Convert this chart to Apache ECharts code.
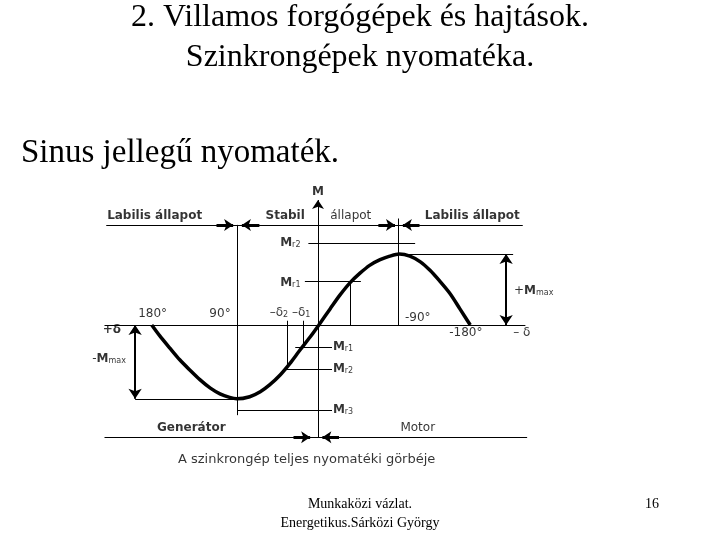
<!DOCTYPE html>
<html>
<head>
<meta charset="utf-8">
<script src="https://cdn.jsdelivr.net/npm/echarts@6/dist/echarts.min.js"></script>
<style>
html, body { margin: 0; padding: 0; background: #fff; }
#main { width: 720px; height: 540px; }
</style>
</head>
<body>
<div id="main"></div>
<script>
// torque curve: load angle delta (deg) -> M / Mmax
var delta = [190, 181, 169, 158, 146, 135, 123, 112, 101, 93, 78, 66, 55, 43, 32, 21, 9, -1,
             -14, -25, -37, -48, -59, -71, -82, -93, -105, -117, -128, -139, -151, -162, -174];
var torque = [0, -0.15, -0.33, -0.49, -0.64, -0.77, -0.89, -0.97, -1.02, -1.04, -1.01, -0.94, -0.84, -0.70, -0.54, -0.36, -0.17, 0,
              0.23, 0.42, 0.60, 0.73, 0.84, 0.92, 0.97, 1.0, 0.97, 0.89, 0.77, 0.62, 0.44, 0.23, 0];

// levels on the M axis
var mPlus = 1.0, mMinus = -1.04;
var motorLoads = [1.15, 0.62];          // M_r2, M_r1 (upper)
var motorNames = ['r2', 'r1'];
var genLoads = [-0.31, -0.62, -1.2];    // M_r1, M_r2, M_r3 (lower)
var genNames = ['r1', 'r2', 'r3'];
var stateLine = 1.41, modeLine = -1.58;

// angle marks
var tickLabels = ['180°', '90°', '-90°', '-180°'];
var tickAngles = [189, 112, -114, -169];
var tickLevels = [0.15, 0.15, 0.1, -0.11];
var deltaLoads = [35, 17];              // -delta2, -delta1

var chart = echarts.init(document.getElementById('main'));

var sans = 'DejaVu Sans';
function seg(a, b) { return { coords: [a, b] }; }

var plain = [
  seg([244, 0], [-237, 0]),
  seg([242, stateLine], [-234, stateLine]),
  seg([244, modeLine], [-239, modeLine]),
  seg([92, stateLine], [92, -1.27]),
  seg([-92, 1.5], [-92, 0]),
  seg([11, motorLoads[0]], [-111, motorLoads[0]]),
  seg([15, motorLoads[1]], [-49, motorLoads[1]]),
  seg([-37, motorLoads[1]], [-37, 0]),
  seg([-92, mPlus], [-223, mPlus]),
  seg([209, mMinus], [92, mMinus]),
  seg([26, genLoads[0]], [-16, genLoads[0]]),
  seg([40, genLoads[1]], [-16, genLoads[1]]),
  seg([92, genLoads[2]], [-16, genLoads[2]]),
  seg([deltaLoads[0], 0.06], [deltaLoads[0], -0.59]),
  seg([deltaLoads[1], 0.06], [deltaLoads[1], -0.32])
];

var doubleArrows = [
  seg([-215, mPlus], [-215, 0]),
  seg([209, 0], [209, mMinus])
];

var shortArrows = [
  seg([116, stateLine], [97, stateLine]),
  seg([67, stateLine], [87, stateLine]),
  seg([-69, stateLine], [-88, stateLine]),
  seg([-116, stateLine], [-97, stateLine]),
  seg([28, modeLine], [9, modeLine]),
  seg([-24, modeLine], [-5, modeLine])
];

function txt(x, y, text, align, extra) {
  var lab = { show: true, position: 'inside', formatter: text, align: align || 'center', verticalAlign: 'middle' };
  for (var k in extra) lab[k] = extra[k];
  return { value: [x, y], label: lab };
}

var rich = {
  m: { fontFamily: sans, fontWeight: 'bold', fontSize: 12, color: '#000' },
  s: { fontFamily: sans, fontSize: 8, color: '#000', verticalAlign: 'bottom', lineHeight: 8, padding: [6, 0, 0, 0] },
  t: { fontFamily: sans, fontSize: 12, color: '#000' }
};

var notes = [
  txt(241, 1.53, 'Labilis állapot', 'left', { fontWeight: 'bold' }),
  txt(60, 1.53, 'Stabil', 'left', { fontWeight: 'bold' }),
  txt(-14, 1.53, 'állapot', 'left'),
  txt(-122, 1.53, 'Labilis állapot', 'left', { fontWeight: 'bold' }),
  txt(0, 1.88, 'M', 'center', { fontWeight: 'bold' }),
  txt(20, motorLoads[0], '{m|M}{s|' + motorNames[0] + '}', 'right', { rich: rich }),
  txt(20, motorLoads[1] - 0.03, '{m|M}{s|' + motorNames[1] + '}', 'right', { rich: rich }),
  txt(-17, genLoads[0], '{m|M}{s|' + genNames[0] + '}', 'left', { rich: rich }),
  txt(-17, genLoads[1], '{m|M}{s|' + genNames[1] + '}', 'left', { rich: rich }),
  txt(-17, genLoads[2], '{m|M}{s|' + genNames[2] + '}', 'left', { rich: rich }),
  txt(32, 0.17, '{t|–δ}{s|2}{t| –δ}{s|1}', 'center', { rich: rich }),
  txt(246, -0.07, '+δ', 'left', { fontWeight: 'bold' }),
  txt(-233, -0.11, '– δ', 'center'),
  txt(-224, 0.48, '{t|+}{m|M}{s|max}', 'left', { rich: rich }),
  txt(258, -0.48, '{t|-}{m|M}{s|max}', 'left', { rich: rich }),
  txt(184, -1.45, 'Generátor', 'left', { fontWeight: 'bold' }),
  txt(-114, -1.45, 'Motor', 'center'),
  txt(13, -1.89, 'A szinkrongép teljes nyomatéki görbéje', 'center', { fontSize: 13 })
];
tickLabels.forEach(function (t, i) {
  notes.push(txt(tickAngles[i], tickLevels[i], t, 'center'));
});

chart.setOption({
  animation: false,
  backgroundColor: '#fff',
  grid: { left: 73, width: 490, top: 168.8, height: 312.4 },
  xAxis: { type: 'value', min: -280, max: 280, inverse: true, show: false },
  yAxis: { type: 'value', min: -2.2, max: 2.2, show: false },
  graphic: [
    { type: 'text', left: 'center', top: 2, style: { text: '2. Villamos forgógépek és hajtások.', font: '32px "Liberation Serif"', fill: '#000' } },
    { type: 'text', left: 'center', top: 42, style: { text: 'Szinkrongépek nyomatéka.', font: '32px "Liberation Serif"', fill: '#000' } },
    { type: 'text', left: 21, top: 137, style: { text: 'Sinus jellegű nyomaték.', font: '33px "Liberation Serif"', fill: '#000' } },
    { type: 'text', left: 'center', top: 497, style: { text: 'Munkaközi vázlat.', font: '14px "Liberation Serif"', fill: '#000' } },
    { type: 'text', left: 'center', top: 516, style: { text: 'Energetikus.Sárközi György', font: '14px "Liberation Serif"', fill: '#000' } },
    { type: 'text', left: 645, top: 497, style: { text: '16', font: '14px "Liberation Serif"', fill: '#000' } }
  ],
  series: [
    {
      type: 'line', data: delta.map(function (d, i) { return [d, torque[i]]; }),
      smooth: 0.3, showSymbol: false, silent: true,
      lineStyle: { color: '#000', width: 3.5 }
    },
    {
      type: 'lines', coordinateSystem: 'cartesian2d', data: plain, silent: true,
      lineStyle: { color: '#000', width: 1, opacity: 1 }
    },
    {
      type: 'lines', coordinateSystem: 'cartesian2d', data: doubleArrows, silent: true,
      symbol: ['arrow', 'arrow'], symbolSize: 10,
      lineStyle: { color: '#000', width: 2, opacity: 1 }
    },
    {
      type: 'lines', coordinateSystem: 'cartesian2d', silent: true,
      data: [seg([0, -1.59], [0, 1.76])],
      symbol: ['none', 'arrow'], symbolSize: 9,
      lineStyle: { color: '#000', width: 1, opacity: 1 }
    },
    {
      type: 'lines', coordinateSystem: 'cartesian2d', data: shortArrows, silent: true,
      symbol: ['none', 'arrow'], symbolSize: 9,
      lineStyle: { color: '#000', width: 3, opacity: 1 }
    },
    {
      type: 'scatter', data: notes, symbolSize: 0, silent: true, clip: false,
      label: { show: true, color: '#000', fontFamily: sans, fontSize: 12 }
    }
  ]
});
</script>
</body>
</html>
